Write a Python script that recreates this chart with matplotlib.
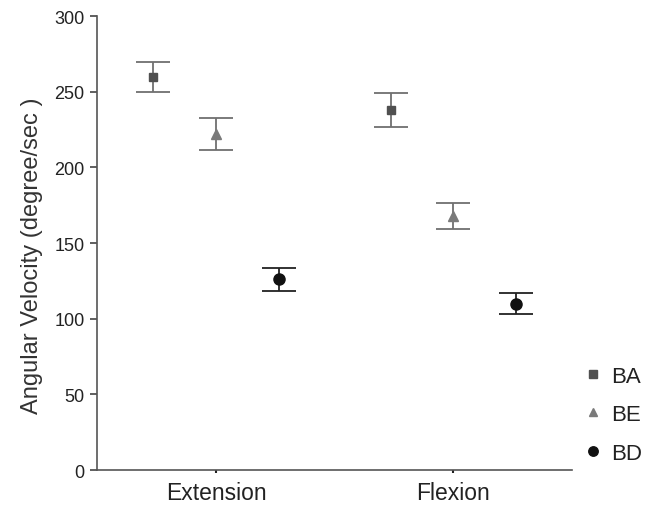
import matplotlib
matplotlib.use("Agg")
import matplotlib.pyplot as plt
import numpy as np

plt.rcParams['font.family'] = ['Liberation Sans', 'DejaVu Sans']

# Data
categories = ["Extension", "Flexion"]
groups = ["BA", "BE", "BD"]
means = {
    "BA": [260, 238],
    "BE": [222, 168],
    "BD": [126, 110],
}
errors = {
    "BA": [10, 11],
    "BE": [10.5, 8.5],
    "BD": [7.5, 7],
}

styles = {
    "BA": dict(marker="s", color="#505050", ecolor="#707070", ms=6),
    "BE": dict(marker="^", color="#7a7a7a", ecolor="#707070", ms=7),
    "BD": dict(marker="o", color="#111111", ecolor="#222222", ms=8),
}
offsets = [-0.265, 0.0, 0.265]

fig = plt.figure(figsize=(6.48, 5.06), dpi=100)
ax = fig.add_axes([0.150, 0.069, 0.733, 0.897])

x = np.arange(len(categories))
for g, off in zip(groups, offsets):
    st = styles[g]
    ax.errorbar(x + off, means[g], yerr=errors[g], fmt=st["marker"],
                color=st["color"], ecolor=st["ecolor"], ms=st["ms"],
                elinewidth=1.3, capsize=12, capthick=1.3, label=g,
                linestyle="none")

ax.set_xlim(-0.5, 1.5)
ax.set_ylim(0, 300)
ax.set_yticks(range(0, 301, 50))
ax.set_xticks(x)
ax.set_xticklabels(categories, fontsize=16.5, color="#222222")
ax.tick_params(axis="y", labelsize=13, length=5, width=1.2, pad=4,
               color="#444444", labelcolor="#222222")
ax.tick_params(axis="x", length=2, width=1.5, color="#222222", pad=6)
ax.set_ylabel("Angular Velocity (degree/sec )", fontsize=17, color="#333333")
ax.yaxis.set_label_coords(-0.115, 0.474)

for s in ["top", "right"]:
    ax.spines[s].set_visible(False)
for s in ["left", "bottom"]:
    ax.spines[s].set_color("#555555")
    ax.spines[s].set_linewidth(1.2)

handles, labels = ax.get_legend_handles_labels()
handles = [h[0] for h in handles]
ax.legend(handles, labels, frameon=False, loc="center left",
          bbox_to_anchor=(1.021, 0.122), fontsize=16, handletextpad=0.3,
          handlelength=1.0, labelspacing=0.78, markerscale=0.85,
          borderpad=0, borderaxespad=0, labelcolor="#222222")

fig.savefig("out.png", dpi=100)
